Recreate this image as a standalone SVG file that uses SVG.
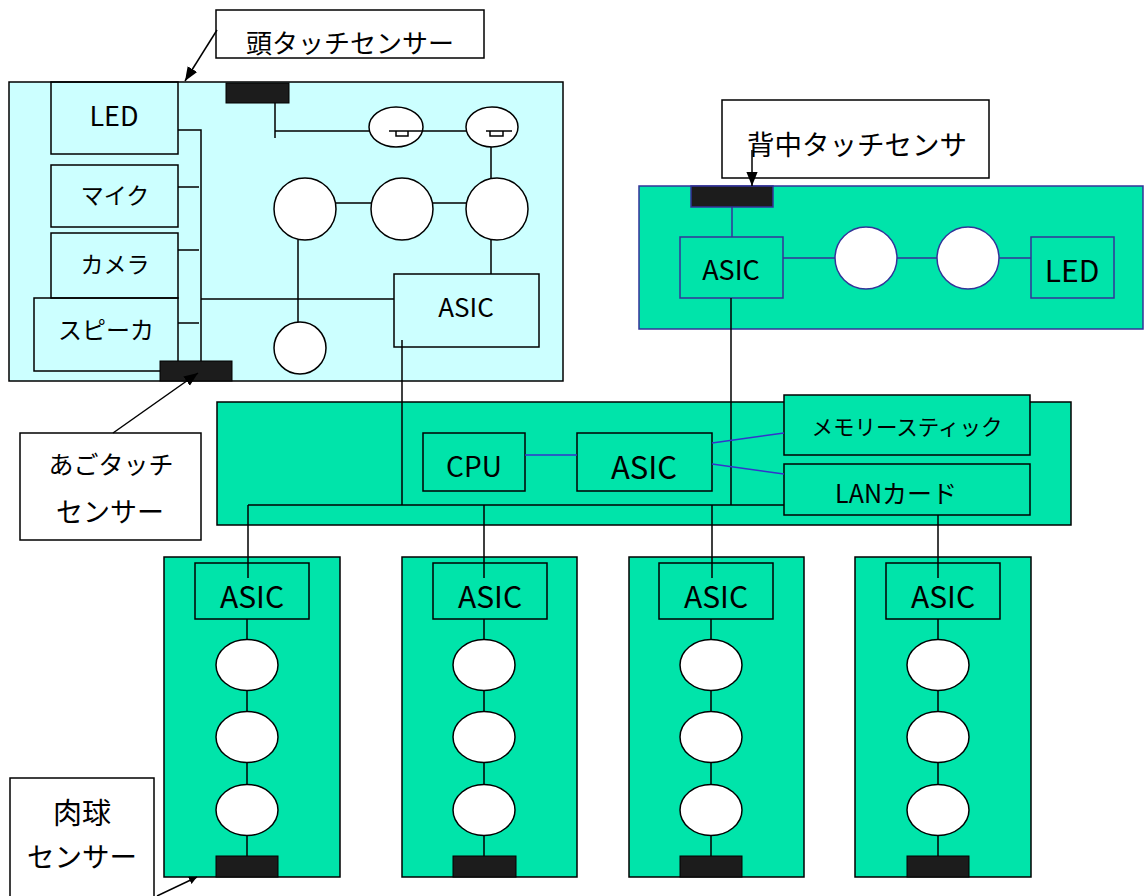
<svg xmlns="http://www.w3.org/2000/svg" width="1145" height="896" viewBox="0 0 1145 896">
<style>
text{font-family:"Noto Sans CJK JP","Noto Sans",sans-serif;fill:#000;text-anchor:middle;dominant-baseline:central}
.hb{fill:#ccffff;stroke:#000;stroke-width:1.5}
.gb{fill:#00e4aa;stroke:#000;stroke-width:1.5}
.bb{fill:#00e4aa;stroke:#333399;stroke-width:1.5}
.box{fill:none;stroke:#000;stroke-width:1.5}
.wbox{fill:#fff;stroke:#000;stroke-width:1.5}
.bbox{fill:none;stroke:#333399;stroke-width:1.5}
.sen{fill:#1c1c1c;stroke:#000;stroke-width:1}
.senb{fill:#1c1c1c;stroke:#333399;stroke-width:1.5}
.c{fill:#fff;stroke:#000;stroke-width:1.5}
.cb{fill:#fff;stroke:#333399;stroke-width:1.5}
.ln{fill:none;stroke:#000;stroke-width:1.5}
.lb{fill:none;stroke:#3333cc;stroke-width:1.5}
.lbp{fill:none;stroke:#333399;stroke-width:1.5}
</style>
<defs>
<marker id="ah" viewBox="0 0 10 10" refX="10" refY="5" markerWidth="8" markerHeight="8" orient="auto" markerUnits="userSpaceOnUse">
<path d="M0,0 L10,5 L0,10 z" fill="#000"/>
</marker>
<marker id="ahL" viewBox="0 0 10 10" refX="10" refY="5" markerWidth="14" markerHeight="14" orient="auto" markerUnits="userSpaceOnUse">
<path d="M0,1 L10,5 L0,9 z" fill="#000"/>
</marker>
</defs>

<!-- Head board -->
<g id="head-board">
<rect class="hb" x="9" y="82" width="554" height="299"/>
</g>
<g id="head-led"><rect class="box" x="51" y="82" width="127" height="72"/><text x="114" y="114" font-size="27">LED</text></g>
<g id="head-mic"><rect class="box" x="51" y="165" width="127" height="62"/><text x="115" y="194" font-size="23">マイク</text></g>
<g id="head-camera"><rect class="box" x="51" y="233" width="127" height="65"/><text x="115" y="263" font-size="23">カメラ</text></g>
<g id="head-speaker"><rect class="box" x="34" y="298" width="144" height="73"/><text x="106" y="328" font-size="24">スピーカ</text></g>
<g id="head-asic"><rect class="box" x="394" y="274" width="145" height="73"/><text x="466" y="305" font-size="26">ASIC</text></g>
<g id="head-motors">
<circle class="c" cx="305" cy="209" r="31"/>
<circle class="c" cx="402" cy="209" r="31"/>
<circle class="c" cx="497" cy="209" r="31"/>
<circle class="c" cx="300" cy="348" r="26"/>
</g>
<g id="head-speakers">
<ellipse class="c" cx="396" cy="127" rx="27" ry="20"/>
<ellipse class="c" cx="492" cy="127" rx="26" ry="20"/>
<path class="ln" d="M389,131 H423 M396,131 V136 H408 V131"/>
<path class="ln" d="M486,131 H512 M490,131 V136 H503 V131"/>
</g>
<g id="head-touch-sensor"><rect class="sen" x="226" y="83" width="63" height="20"/></g>
<g id="chin-touch-sensor"><rect class="sen" x="160" y="361" width="72" height="20"/></g>

<!-- Back board -->
<g id="back-board"><rect class="bb" x="639" y="186" width="504" height="143"/></g>
<g id="back-sensor"><rect class="senb" x="691" y="186" width="82" height="21"/></g>
<g id="back-asic"><rect class="bbox" x="680" y="237" width="103" height="61"/><text x="731" y="268" font-size="27">ASIC</text></g>
<g id="back-motors">
<circle class="cb" cx="866" cy="258" r="31"/>
<circle class="cb" cx="968" cy="258" r="31"/>
</g>
<g id="back-led"><rect class="bbox" x="1031" y="237" width="83" height="61"/><text x="1072" y="269" font-size="30">LED</text></g>

<!-- Main board -->
<g id="main-board"><rect class="gb" x="217" y="402" width="854" height="123"/></g>
<g id="cpu"><rect class="box" x="423" y="433" width="102" height="58"/><text x="474" y="465" font-size="28">CPU</text></g>
<g id="main-asic"><rect class="box" x="577" y="433" width="135" height="58"/><text x="644" y="465" font-size="31">ASIC</text></g>
<g id="memory-stick"><rect class="gb" x="784" y="395" width="246" height="60"/><text x="907" y="425" font-size="21.5">メモリースティック</text></g>
<g id="lan-card"><rect class="gb" x="784" y="464" width="246" height="51"/><text x="896" y="492" font-size="25">LANカード</text></g>

<!-- Leg boards -->
<g id="leg1">
<rect class="gb" x="164" y="557" width="176" height="320"/>
<rect class="box" x="195" y="563" width="114" height="56"/><text x="252" y="595" font-size="30">ASIC</text>
</g>
<g id="leg2">
<rect class="gb" x="402" y="557" width="175" height="320"/>
<rect class="box" x="433" y="563" width="114" height="56"/><text x="490" y="595" font-size="30">ASIC</text>
</g>
<g id="leg3">
<rect class="gb" x="629" y="557" width="175" height="320"/>
<rect class="box" x="659" y="563" width="114" height="56"/><text x="716" y="595" font-size="30">ASIC</text>
</g>
<g id="leg4">
<rect class="gb" x="855" y="557" width="176" height="320"/>
<rect class="box" x="886" y="563" width="114" height="56"/><text x="943" y="595" font-size="30">ASIC</text>
</g>

<!-- Labels -->
<g id="label-head"><rect class="wbox" x="216" y="10" width="268" height="48"/><text x="350" y="41" font-size="26">頭タッチセンサー</text></g>
<g id="label-back"><rect class="wbox" x="722" y="100" width="267" height="78"/><text x="857" y="143" font-size="27.5">背中タッチセンサ</text></g>
<g id="label-chin"><rect class="wbox" x="20" y="433" width="181" height="107"/><text x="111" y="463" font-size="25">あごタッチ</text><text x="110" y="510" font-size="27">センサー</text></g>
<g id="label-paw"><rect class="wbox" x="10" y="778" width="144" height="130"/><text x="82" y="811" font-size="29">肉球</text><text x="82" y="855" font-size="27.5">センサー</text></g>

<!-- Connectors -->
<g id="connectors">
<!-- head board -->
<path class="ln" d="M178,130 H201 V361"/>
<path class="ln" d="M178,187 H199 M178,250 H199 M178,323 H199"/>
<path class="ln" d="M201,299 H394"/>
<path class="ln" d="M275,103 V138 M275,131 H369"/>
<path class="ln" d="M423,131 H466"/>
<path class="ln" d="M491,147 V178"/>
<path class="ln" d="M336,203 H371 M433,203 H466"/>
<path class="ln" d="M298,240 V322"/>
<path class="ln" d="M491,240 V274"/>
<!-- back board -->
<path class="lbp" d="M732,207 V237"/>
<path class="lbp" d="M783,258 H835 M897,258 H937 M999,258 H1031"/>
<!-- main bus -->
<path class="ln" d="M402,340 V505"/>
<path class="ln" d="M731,298 V505"/>
<path class="ln" d="M248,505 H784"/>
<path class="ln" d="M248,505 V578 M484,505 V578 M712,505 V578 M938,515 V578"/>
<path class="lb" d="M525,455 H577"/>
<path class="lb" d="M712,443 L784,433 M712,464 L784,474"/>
<!-- leg chains -->
<path class="ln" d="M247,619 V856 M484,619 V856 M711,619 V856 M938,619 V856"/>
<!-- label arrows -->
<path class="ln" d="M217,30 L185,81" marker-end="url(#ahL)"/>
<path class="ln" d="M752,150 V186" marker-end="url(#ahL)"/>
<path class="ln" d="M113,433 L198,373" marker-end="url(#ahL)"/>
<path class="ln" d="M157,896 L197,877" marker-end="url(#ah)"/>
</g>

<!-- Leg motors and sensors (on top of chain lines) -->
<g id="leg1-parts">
<ellipse class="c" cx="247" cy="665" rx="31" ry="25.5"/>
<ellipse class="c" cx="247" cy="737" rx="31" ry="25.5"/>
<ellipse class="c" cx="247" cy="810" rx="31" ry="25.5"/>
<rect class="sen" x="216" y="856" width="62" height="21"/>
</g>
<g id="leg2-parts">
<ellipse class="c" cx="484" cy="665" rx="31" ry="25.5"/>
<ellipse class="c" cx="484" cy="737" rx="31" ry="25.5"/>
<ellipse class="c" cx="484" cy="810" rx="31" ry="25.5"/>
<rect class="sen" x="453" y="856" width="63" height="21"/>
</g>
<g id="leg3-parts">
<ellipse class="c" cx="711" cy="665" rx="31" ry="25.5"/>
<ellipse class="c" cx="711" cy="737" rx="31" ry="25.5"/>
<ellipse class="c" cx="711" cy="810" rx="31" ry="25.5"/>
<rect class="sen" x="680" y="856" width="62" height="21"/>
</g>
<g id="leg4-parts">
<ellipse class="c" cx="938" cy="665" rx="31" ry="25.5"/>
<ellipse class="c" cx="938" cy="737" rx="31" ry="25.5"/>
<ellipse class="c" cx="938" cy="810" rx="31" ry="25.5"/>
<rect class="sen" x="907" y="856" width="62" height="21"/>
</g>
</svg>
